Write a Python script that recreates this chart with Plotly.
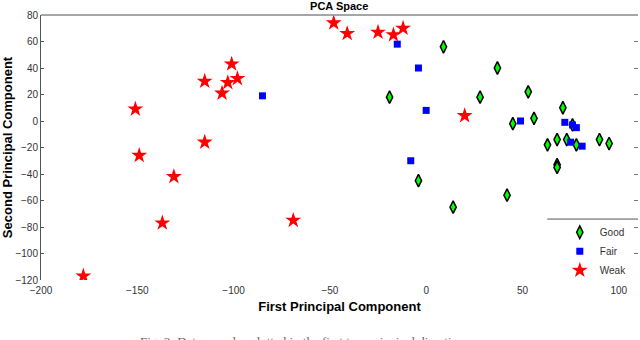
import plotly.graph_objects as go

# Good (green diamonds)
good_x = [9, 37, -19, 28, 53, 71, 56, 45, 76, 68, 73, 78, 63, 90, 95, 68, 68, -4, 14, 42]
good_y = [56, 40, 18, 18, 22, 10, 2, -2, -3, -14, -14, -18, -18, -14, -17, -33, -35, -45, -65, -56]

# Fair (blue squares)
fair_x = [-85, -15, -4, 0, -8, 49, 72, 76, 78, 75, 81]
fair_y = [19, 58, 40, 8, -30, 0, -1, -3, -5, -16, -19]

# Weak (red stars)
weak_x = [-151, -149, -115, -115, -106, -101, -103, -98, -131, -137, -69, -178,
          -48, -41, -25, -17, -12, 20]
weak_y = [9, -26, 30, -16, 21, 43, 29, 32, -42, -77, -75, -117,
          74, 66, 67, 65, 70, 4]

x_ticks = [-200, -150, -100, -50, 0, 50, 100]
y_ticks = [-120, -100, -80, -60, -40, -20, 0, 20, 40, 60, 80]

fig = go.Figure()
fig.add_trace(go.Scatter(
    x=good_x, y=good_y, mode='markers', name='Good',
    marker=dict(symbol='diamond-tall', size=9, color='#00ff00',
                line=dict(color='black', width=1.5))
))
fig.add_trace(go.Scatter(
    x=fair_x, y=fair_y, mode='markers', name='Fair',
    marker=dict(symbol='square', size=7, color='#0000ff', line=dict(width=0))
))
fig.add_trace(go.Scatter(
    x=weak_x, y=weak_y, mode='markers', name='Weak',
    marker=dict(symbol='star', size=12, color='#ff0000', line=dict(width=0))
))
# empty trace so the right-hand ticks get drawn
fig.add_trace(go.Scatter(x=[None], y=[None], yaxis='y2', showlegend=False))

tick_font = dict(family='Liberation Sans, Arial', size=10, color='#333333')
title_font = dict(family='Liberation Sans, Arial', size=13, color='black')

fig.update_layout(
    width=640, height=340,
    margin=dict(l=41, r=2, t=15, b=60),
    plot_bgcolor='white', paper_bgcolor='white',
    showlegend=True,
    title=dict(text='<b>PCA Space</b>', x=0.53, xanchor='center', y=0.982, yanchor='middle',
               font=dict(family='Liberation Sans, Arial', size=11, color='black')),
    xaxis=dict(
        range=[-200, 110], tickvals=x_ticks, showgrid=False, zeroline=False,
        showline=False, ticks='', tickfont=tick_font, ticklabelstandoff=3,
        title=dict(text='<b>First Principal Component</b>', font=title_font, standoff=6),
    ),
    yaxis=dict(
        range=[-120, 80], tickvals=y_ticks, showgrid=False, zeroline=False,
        showline=True, linecolor='#555555', linewidth=1, ticks='inside', ticklen=3,
        tickcolor='#555555', tickfont=tick_font,
        title=dict(text='<b>Second Principal Component</b>', font=title_font, standoff=4),
    ),
    yaxis2=dict(
        range=[-120, 80], tickvals=y_ticks, overlaying='y', side='right',
        showgrid=False, zeroline=False, showline=False, showticklabels=False,
        ticks='inside', ticklen=4, tickcolor='#777777',
    ),
    legend=dict(
        x=0.869, xanchor='left', y=0.235, yanchor='top',
        bgcolor='rgba(0,0,0,0)', borderwidth=0, font=tick_font,
        tracegroupgap=0,
    ),
)

# top border of the axes box
fig.add_shape(type='line', xref='paper', yref='paper', x0=0, x1=1, y0=1, y1=1,
              line=dict(color='#888888', width=1.5))
# top border of the legend box
fig.add_shape(type='line', xref='paper', yref='paper', x0=0.848, x1=1, y0=0.23, y1=0.23,
              line=dict(color='#555555', width=1))

# figure caption, cut by the bottom of the page
fig.add_annotation(
    text='Fig. 3: Data samples plotted in the first two principal directions',
    xref='paper', yref='paper', x=0.442, y=-0.197, xanchor='center', yanchor='top',
    showarrow=False, font=dict(family='Liberation Serif, Times New Roman', size=13, color='#666666'),
)

fig.write_html('out.html', config={'displayModeBar': False},
               post_script="document.body.style.margin='0';")
